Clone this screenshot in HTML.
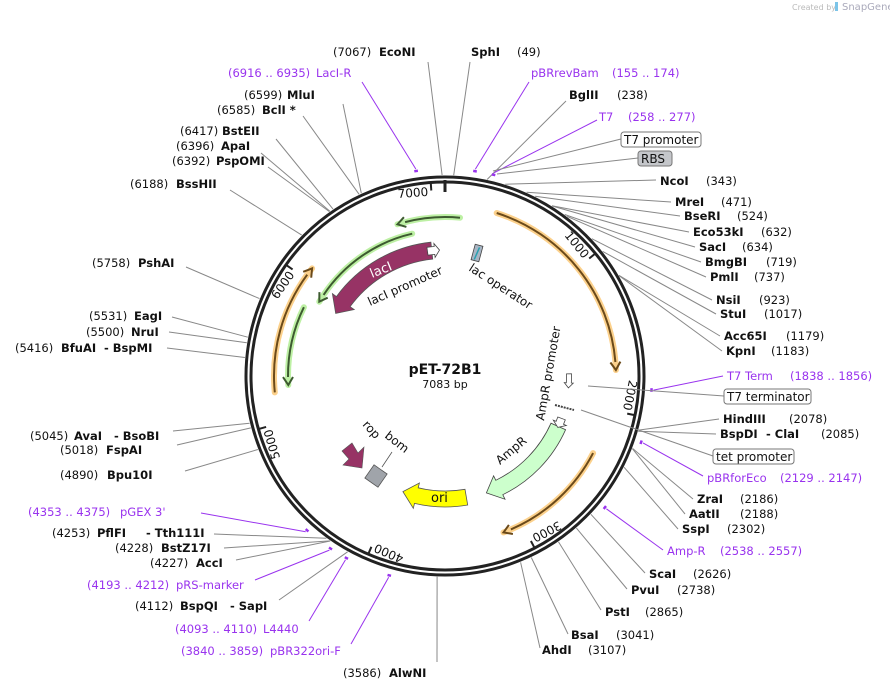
<!DOCTYPE html>
<html><head><meta charset="utf-8">
<style>
html,body{margin:0;padding:0;background:#fff;}
svg{display:block;font-family:"DejaVu Sans","Liberation Sans",sans-serif;}
</style></head>
<body>
<svg id="s" width="890" height="693" viewBox="0 0 890 693" xmlns="http://www.w3.org/2000/svg"></svg>
<script>
var S=document.getElementById('s');
var cx=445,cy=376,N=7083,P='#9933ee';
var out='';
function ang(p){return p/N*360;}
function pt(r,a){var t=(a-90)*Math.PI/180;return [cx+r*Math.cos(t),cy+r*Math.sin(t)];}
function f(v){return v.toFixed(1);}
function P2(q){return f(q[0])+','+f(q[1]);}
function arcPath(r,a1,a2){var d=a2>a1?1:0;var lg=Math.abs(a2-a1)>180?1:0;return 'A'+r+','+r+' 0 '+lg+' '+d+' '+P2(pt(r,a2));}
function thick(r,s,e,w,fill,stroke,hl,hw){
 hl=hl||14;hw=(hw==null)?5:hw;
 var dir=e>s?1:-1,h=(hl/r)*180/Math.PI*dir;var m=e-h;
 var d='M'+P2(pt(r+w/2,s))+arcPath(r+w/2,s,m)+'L'+P2(pt(r+w/2+hw,m))+'L'+P2(pt(r,e))+'L'+P2(pt(r-w/2-hw,m))+'L'+P2(pt(r-w/2,m))+arcPath(r-w/2,m,s)+'Z';
 out+='<path d="'+d+'" fill="'+fill+'" stroke="'+stroke+'" stroke-width="0.8"/>';
}
function thin(r,s,e,hl,ln){
 var dir=e>s?1:-1,h=(8/r)*180/Math.PI*dir;var m=e-h;
 out+='<path d="M'+P2(pt(r,s))+arcPath(r,s,e)+'" fill="none" stroke="'+hl+'" stroke-width="6" stroke-linecap="round"/>';
 out+='<path d="M'+P2(pt(r,s))+arcPath(r,s,m)+'" fill="none" stroke="'+ln+'" stroke-width="2"/>';
 out+='<path d="M'+P2(pt(r+5,m))+'L'+P2(pt(r,e))+'L'+P2(pt(r-5,m))+'" fill="none" stroke="'+ln+'" stroke-width="2"/>';
}
out+='<circle cx="'+cx+'" cy="'+cy+'" r="199" fill="none" stroke="#222" stroke-width="3"/>';
out+='<circle cx="'+cx+'" cy="'+cy+'" r="194" fill="none" stroke="#222" stroke-width="3"/>';
var a0=pt(184,0),b0=pt(196,0);
out+='<line x1="'+f(a0[0])+'" y1="'+f(a0[1])+'" x2="'+f(b0[0])+'" y2="'+f(b0[1])+'" stroke="#222" stroke-width="3"/>';
for(var k=1;k<=7;k++){var a=ang(k*1000);var p1=pt(186,a),p2=pt(193,a);
 out+='<line x1="'+f(p1[0])+'" y1="'+f(p1[1])+'" x2="'+f(p2[0])+'" y2="'+f(p2[1])+'" stroke="#222" stroke-width="2"/>';
 var top=(a<90||a>270);var rot=top?a:a-180;var tp=pt(top?181:187,a+(top?-1:1));
 out+='<text x="'+f(tp[0])+'" y="'+f(tp[1])+'" font-size="12" text-anchor="'+(top?'end':'start')+'" transform="rotate('+f(rot)+' '+f(tp[0])+' '+f(tp[1])+')" fill="#111">'+(k*1000)+'</text>';}
var OH='#fcd18c',OL='#6b4a1a',GH='#bdf0a4',GL='#3d5a30';
thin(171,17.6,88,OH,OL);
thin(167,117.5,159.5,OH,OL);
thin(171,264.5,309,OH,OL);
thin(159,5.4,-17.4,GH,GL);
thin(146,347,300.6,GH,GL);
thin(157,296,266.7,GH,GL);
thick(126,354,299.8,17,'#973365','#555');
thick(124,114,160.5,16,'#ccffcc','#444');
thick(123,170,200,16,'#ffff00','#555');
thick(126,352,357.5,8,'#fff','#444',5,3);
thick(124,89,95.5,5,'#fff','#444',5,2);
thick(124,110,114.5,8,'#fff','#444',5,3);
out+='<path d="M342,451 L352,443 L358,453 L364,447 L362,468 L343,465 L349,459 Z" fill="#973365" stroke="#555" stroke-width="0.6"/>';
out+='<rect x="368" y="468" width="16" height="16" fill="#a0a4aa" stroke="#555" stroke-width="0.8" transform="rotate(35 376 476)"/>';
out+='<line x1="382" y1="467" x2="392" y2="452" stroke="#555" stroke-width="0.8"/>';
out+='<rect x="473" y="245" width="8" height="16" fill="#a9b5c4" stroke="#444" stroke-width="0.8" transform="rotate(15 477 253)"/>';
out+='<line x1="478" y1="247" x2="476" y2="260" stroke="#2aa0b0" stroke-width="1.5" transform="rotate(15 477 253)"/>';
out+='<line x1="555" y1="405" x2="574" y2="410" stroke="#444" stroke-width="2" stroke-dasharray="2,1"/>';
function T(x,y,t,o){o=o||{};out+='<text x="'+x+'" y="'+y+'" font-size="'+(o.s||11.5)+'"'+(o.w?' font-weight="bold"':'')+' fill="'+(o.c||'#111')+'"'+(o.a?' text-anchor="'+o.a+'"':'')+(o.r!=null?' transform="rotate('+o.r+' '+x+' '+y+')"':'')+'>'+t+'</text>';}
T(445,374,'pET-72B1',{s:14,w:1,a:'middle'});
T(445,388,'7083 bp',{s:11,a:'middle'});
T(372,278,'lacI',{s:13,c:'#fff',r:-22});
T(370,306,'lacI promoter',{s:12,r:-24});
T(468,270,'lac operator',{s:12,r:33});
T(544,421,'AmpR promoter',{s:12,r:-80});
T(500,465,'AmpR',{s:12,r:-40});
T(431,502,'ori',{s:13});
T(362,425,'rop',{s:12,r:48});
T(384,437,'bom',{s:12,r:38});
var L=[
[7067,56,[428,62],[[333,'(7067)','n'],[379,'EcoNI','b']]],
[49,56,[470,62],[[471,'SphI','b'],[517,'(49)','n']]],
[6925,77,[362,82],[[228,'(6916 .. 6935)','p'],[316,'LacI-R','p']],1],
[164,77,[529,82],[[531,'pBRrevBam','p'],[612,'(155 .. 174)','p']],1],
[6599,99,[343,104],[[244,'(6599)','n'],[287,'MluI','b']]],
[238,99,[566,101],[[569,'BglII','b'],[617,'(238)','n']]],
[6585,114,[303,116],[[217,'(6585)','n'],[262,'BclI *','b']]],
[267,121,[597,120],[[599,'T7','p'],[628,'(258 .. 277)','p']],1],
[6417,135,[276,139],[[180,'(6417)','n'],[222,'BstEII','b']]],
[6396,150,[261,153],[[176,'(6396)','n'],[221,'ApaI','b']]],
[6392,165,[268,167],[[172,'(6392)','n'],[216,'PspOMI','b']]],
[6188,188,[230,190],[[130,'(6188)','n'],[176,'BssHII','b']]],
[343,185,[656,180],[[660,'NcoI','b'],[706,'(343)','n']]],
[471,206,[671,202],[[675,'MreI','b'],[721,'(471)','n']]],
[524,220,[680,216],[[684,'BseRI','b'],[737,'(524)','n']]],
[632,236,[689,232],[[693,'Eco53kI','b'],[761,'(632)','n']]],
[634,251,[695,247],[[699,'SacI','b'],[742,'(634)','n']]],
[719,266,[701,262],[[705,'BmgBI','b'],[766,'(719)','n']]],
[737,281,[706,277],[[710,'PmlI','b'],[754,'(737)','n']]],
[5758,267,[186,267],[[92,'(5758)','n'],[138,'PshAI','b']]],
[923,304,[712,300],[[716,'NsiI','b'],[759,'(923)','n']]],
[1017,318,[716,314],[[720,'StuI','b'],[764,'(1017)','n']]],
[1179,340,[720,336],[[724,'Acc65I','b'],[786,'(1179)','n']]],
[1183,355,[722,351],[[726,'KpnI','b'],[771,'(1183)','n']]],
[5531,320,[172,317],[[89,'(5531)','n'],[134,'EagI','b']]],
[5500,336,[169,332],[[86,'(5500)','n'],[131,'NruI','b']]],
[5416,352,[167,348],[[15,'(5416)','n'],[61,'BfuAI','b'],[104,'- BspMI','b']]],
[1847,380,[723,376],[[727,'T7 Term','p'],[790,'(1838 .. 1856)','p']],1],
[2078,423,[719,419],[[723,'HindIII','b'],[789,'(2078)','n']]],
[2085,438,[716,434],[[720,'BspDI','b'],[766,'- ClaI','b'],[821,'(2085)','n']]],
[5045,440,[173,431],[[30,'(5045)','n'],[74,'AvaI','b'],[114,'- BsoBI','b']]],
[5018,454,[177,445],[[60,'(5018)','n'],[106,'FspAI','b']]],
[4890,479,[185,471],[[60,'(4890)','n'],[107,'Bpu10I','b']]],
[2138,482,[703,476],[[707,'pBRforEco','p'],[780,'(2129 .. 2147)','p']],1],
[2186,503,[693,499],[[697,'ZraI','b'],[740,'(2186)','n']]],
[2188,518,[685,514],[[689,'AatII','b'],[740,'(2188)','n']]],
[2302,533,[678,529],[[682,'SspI','b'],[727,'(2302)','n']]],
[4364,516,[201,513],[[28,'(4353 .. 4375)','p'],[120,"pGEX 3'",'p']],1],
[4253,537,[214,534],[[52,'(4253)','n'],[97,'PflFI','b'],[146,'- Tth111I','b']]],
[4228,552,[224,548],[[115,'(4228)','n'],[161,'BstZ17I','b']]],
[4227,567,[236,560],[[150,'(4227)','n'],[196,'AccI','b']]],
[2547,555,[663,550],[[667,'Amp-R','p'],[720,'(2538 .. 2557)','p']],1],
[2626,578,[645,573],[[649,'ScaI','b'],[693,'(2626)','n']]],
[4202,589,[255,580],[[87,'(4193 .. 4212)','p'],[176,'pRS-marker','p']],1],
[2738,594,[627,589],[[631,'PvuI','b'],[677,'(2738)','n']]],
[4112,610,[279,600],[[135,'(4112)','n'],[180,'BspQI','b'],[230,'- SapI','b']]],
[2865,616,[601,610],[[605,'PstI','b'],[645,'(2865)','n']]],
[4101,633,[309,621],[[175,'(4093 .. 4110)','p'],[263,'L4440','p']],1],
[3041,639,[568,634],[[571,'BsaI','b'],[616,'(3041)','n']]],
[3107,654,[540,648],[[542,'AhdI','b'],[588,'(3107)','n']]],
[3849,655,[351,644],[[181,'(3840 .. 3859)','p'],[270,'pBR322ori-F','p']],1],
[3586,677,[437,662],[[343,'(3586)','n'],[389,'AlwNI','b']]]
];
L.forEach(function(l){
 var a=ang(l[0]);var purple=l[4];var q=pt(purple?209:201,a);
 out+='<line x1="'+f(q[0])+'" y1="'+f(q[1])+'" x2="'+l[2][0]+'" y2="'+l[2][1]+'" stroke="'+(purple?P:'#888')+'" stroke-width="1"/>';
 if(purple){var m1=pt(207,a-0.5),m2=pt(207,a+0.5);out+='<line x1="'+f(m1[0])+'" y1="'+f(m1[1])+'" x2="'+f(m2[0])+'" y2="'+f(m2[1])+'" stroke="'+P+'" stroke-width="2.5"/>';}
 l[3].forEach(function(p){T(p[0],l[1],p[1],{w:p[2]=='b',c:p[2]=='p'?P:'#111'});});
});
function box(x,y,w,t,fill,lx,ly){out+='<line x1="'+lx+'" y1="'+ly+'" x2="'+x+'" y2="'+(y+7)+'" stroke="#888" stroke-width="1"/>';
 out+='<rect x="'+x+'" y="'+y+'" width="'+w+'" height="15" rx="3" fill="'+fill+'" stroke="#777" stroke-width="1"/>';T(x+3,y+12,t,{s:12});}
box(621,132,80,'T7 promoter','#fff',493,171);
box(638,151,34,'RBS','#c4c6ca',497,174);
box(724,389,87,'T7 terminator','#fff',588,386);
box(713,449,81,'tet promoter','#fff',581,410);
out+='<text x="792" y="10" font-size="8" fill="#bbb">Created by</text><text x="842" y="10" font-size="10" fill="#aab">SnapGene</text><rect x="835" y="2" width="3" height="9" fill="#7cc4e8"/>';
S.innerHTML=out;
</script>
</body></html>
